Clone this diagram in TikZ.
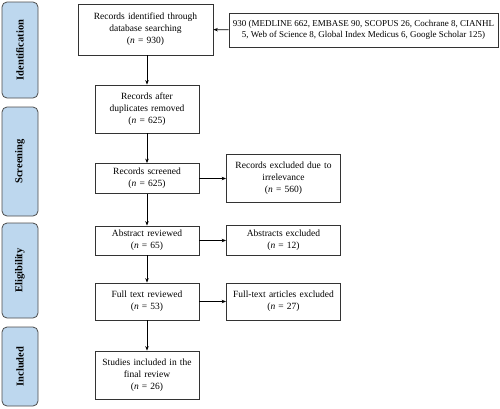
\documentclass[tikz,border=0pt]{standalone}
\usepackage{fontspec}
\setmainfont{Liberation Serif}
\usetikzlibrary{arrows.meta}
\definecolor{stageblue}{HTML}{BDD7EE}

\begin{document}
\begin{tikzpicture}[x = 1pt, y = -1pt, line width = 0.8pt, font = \fontsize{9.5}{12}\selectfont, every node/.style = {align = center, inner sep = 2pt}, box/.style = {draw = black!80, minimum width = 104pt, text width = 100pt}, side/.style = {box, minimum width = 113pt, text width = 110pt}, stage/.style = {draw = black!70, fill = stageblue, rounded corners = 5pt, minimum height = 36pt, rotate = 90, font = \fontsize{10.5}{12}\selectfont\bfseries}, arr/.style = {-{Stealth[length = 4.5pt, width = 3.5pt]}}]
        \useasboundingbox (0, 0) rectangle (500, 408);
        % stages
        \node[stage, minimum width = 96pt] (ident) at (20, 50) {Identification};
        \node[stage, minimum width = 109pt] (screen) at (20, 161.5) {Screening};
        \node[stage, minimum width = 95pt] (elig) at (20, 270.5) {Eligibility};
        \node[stage, minimum width = 79pt] (incl) at (20, 366.5) {Included};
        % main column
        \node[box, minimum width = 135pt, text width = 130pt, minimum height = 51pt] (found) at (145.5, 29.5) {Records identified through\\database searching\\(\textit{n} = 930)};
        \node[draw = black!80, minimum width = 269pt, minimum height = 34pt, inner sep = 1pt, font = \fontsize{9}{11.5}\selectfont] (sources) at (363.5, 30) {930 (MEDLINE 662, EMBASE 90, SCOPUS 26, Cochrane 8, CIANHL\\5, Web of Science 8, Global Index Medicus 6, Google Scholar 125)};
        \node[box, minimum height = 48pt] (dedup) at (147, 109) {Records after\\duplicates removed\\(\textit{n} = 625)};
        \node[box, minimum height = 30pt] (screened) at (147, 178.5) {Records screened\\(\textit{n} = 625)};
        \node[box, minimum height = 29pt] (abstract) at (147, 240.5) {Abstract reviewed\\(\textit{n} = 65)};
        \node[box, minimum height = 37pt] (fulltext) at (147, 301.5) {Full text reviewed\\(\textit{n} = 53)};
        \node[box, minimum height = 48pt] (included) at (147, 375) {Studies included in the\\final review\\(\textit{n} = 26)};
        % excluded
        \node[side, minimum height = 48pt] (irrel) at (283.5, 178.5) {Records excluded due to\\irrelevance\\(\textit{n} = 560)};
        \node[side, minimum height = 30pt] (absexcl) at (283.5, 240.5) {Abstracts excluded\\(\textit{n} = 12)};
        \node[side, minimum height = 37pt] (fullexcl) at (283.5, 301.5) {Full-text articles excluded\\(\textit{n} = 27)};
        % arrows
        \draw[arr] (sources) -- (found);
        \draw[arr] (found.south -| dedup) -- (dedup);
        \draw[arr] (dedup) -- (screened);
        \draw[arr] (screened) -- (abstract);
        \draw[arr] (abstract) -- (fulltext);
        \draw[arr] (fulltext) -- (included);
        \draw[arr] (screened) -- (irrel);
        \draw[arr] (abstract) -- (absexcl);
        \draw[arr] (fulltext) -- (fullexcl);
    \end{tikzpicture}
\end{document}
